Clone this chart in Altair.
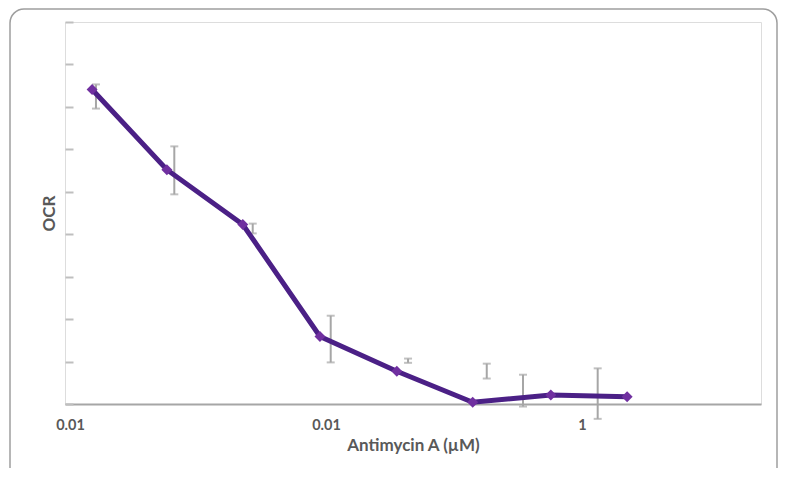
import altair as alt
import pandas as pd

# ---- data ----
dose = [0.0122, 0.0239, 0.0473, 0.0947, 0.189, 0.374, 0.755, 1.50]
ocr = [7.41, 5.52, 4.23, 1.59, 0.77, 0.04, 0.21, 0.17]
err_dose = [0.01263, 0.02555, 0.05172, 0.1043, 0.2091, 0.4244, 0.5881, 1.151]
err_high = [7.53, 6.07, 4.25, 2.08, 1.07, 0.95, 0.69, 0.84]
err_low = [6.96, 4.94, 4.02, 0.98, 0.97, 0.60, -0.06, -0.35]
x_tick_values = [0.01, 0.1, 1]
x_tick_labels = ["0.01", "0.01", "1"]
y_tick_values = list(range(10))

points = pd.DataFrame({"dose": dose, "ocr": ocr})
errors = pd.DataFrame({"dose": err_dose, "high": err_high, "low": err_low})
frame = pd.DataFrame({"k": [0]})

label_expr = " : ".join(
    f"abs(datum.value - {v}) < {v * 0.01} ? '{l}'" for v, l in zip(x_tick_values, x_tick_labels)
) + " : ''"

TEXT = "#595959"
GRAY = "#A6A6A6"
FONT = "Lato"

x_scale = alt.Scale(type="log", domain=[0.00956, 5.0], nice=False)
y_scale = alt.Scale(domain=[0, 9], nice=False, zero=False)

x_axis = alt.Axis(
    values=x_tick_values, labelExpr=label_expr, ticks=False, grid=False,
    domainColor=GRAY, domainWidth=2,
    labelFont=FONT, labelFontSize=14.5, labelFontWeight="bold", labelColor=TEXT,
    labelPadding=14, labelFlush=False,
    title="Antimycin A (µM)", titleFont=FONT, titleFontSize=17,
    titleFontWeight="bold", titleColor=TEXT, titlePadding=6,
)
y_axis = alt.Axis(
    values=y_tick_values, labels=False, domain=False, grid=False,
    ticks=True, tickSize=8, tickColor="#BFBFBF", tickWidth=2, offset=-8,
    title="OCR", titleFont=FONT, titleFontSize=17, titleFontWeight="bold",
    titleColor=TEXT, titlePadding=6,
)


def xenc(field):
    return alt.X(f"{field}:Q", scale=x_scale, axis=x_axis, title="Antimycin A (µM)")


def yenc(field):
    return alt.Y(f"{field}:Q", scale=y_scale, axis=y_axis, title="OCR")


border = alt.Chart(frame).mark_rect(
    filled=False, stroke="#9E9E9E", strokeWidth=1.5, cornerRadius=14
).encode(
    x=alt.value(-55), x2=alt.value(712), y=alt.value(-13), y2=alt.value(475)
)

err_rule = alt.Chart(errors).mark_rule(color=GRAY, strokeWidth=2).encode(
    x=xenc("dose"), y=yenc("high"), y2="low:Q"
)
err_top = alt.Chart(errors).mark_tick(
    color=GRAY, orient="horizontal", size=8, thickness=2
).encode(x=xenc("dose"), y=yenc("high"))
err_bot = alt.Chart(errors).mark_tick(
    color=GRAY, orient="horizontal", size=8, thickness=2
).encode(x=xenc("dose"), y=yenc("low"))

line = alt.Chart(points).mark_line(color="#4B2086", strokeWidth=5).encode(
    x=xenc("dose"), y=yenc("ocr")
)
pts = alt.Chart(points).mark_point(
    shape="diamond", filled=True, size=120, color="#7030A0", opacity=1
).encode(x=xenc("dose"), y=yenc("ocr"))

chart = alt.layer(border, err_rule, err_top, err_bot, line, pts).properties(
    width=696,
    height=382,
    autosize=alt.AutoSizeParams(type="none"),
    padding={"left": 57, "top": 14, "right": 17, "bottom": 64},
).configure_view(stroke=None).configure(background="white")

chart.save("out.html", embed_options={"renderer": "svg", "actions": False})
